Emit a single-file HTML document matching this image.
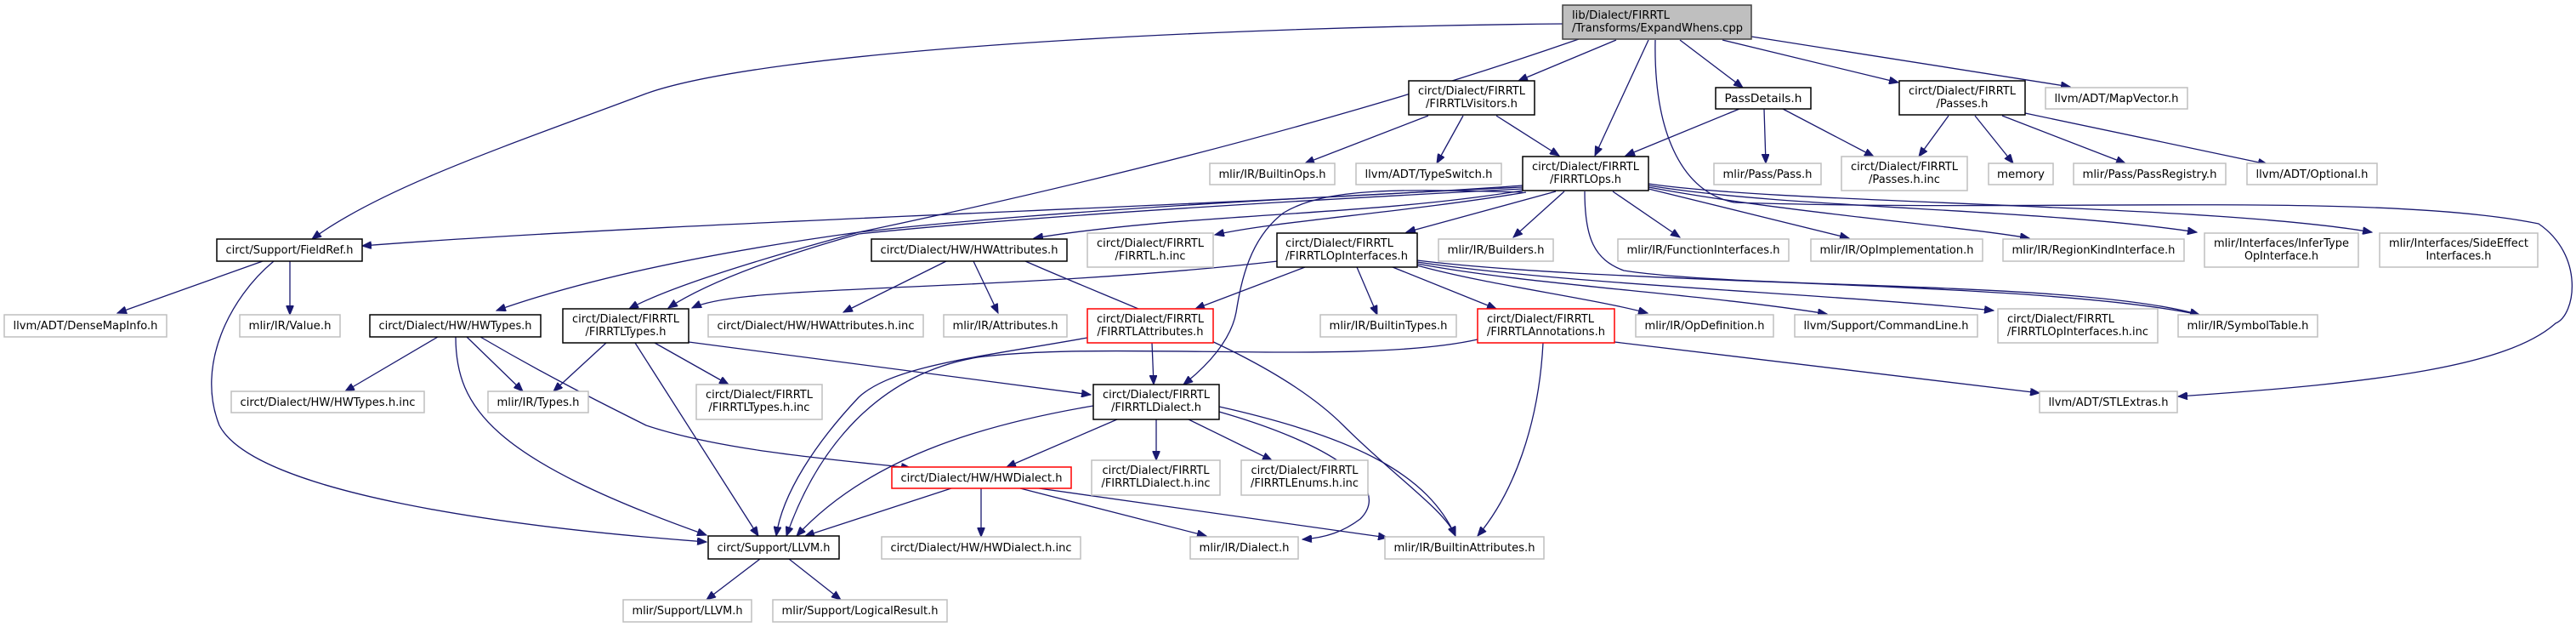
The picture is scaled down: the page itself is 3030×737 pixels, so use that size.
<!DOCTYPE html>
<html><head><meta charset="utf-8"><style>
html,body{margin:0;padding:0;background:#fff;}
svg{display:block;}
text{font-family:"DejaVu Sans","Liberation Sans",sans-serif;font-size:13px;fill:#000;}
.b{fill:#fff;stroke:#000;stroke-width:1.5}
.g{fill:#fff;stroke:#bfbfbf;stroke-width:1.5}
.r{fill:#fff;stroke:#ff0000;stroke-width:1.5}
.rt{fill:#bfbfbf;stroke:#404040;stroke-width:1.5}
path.e{fill:none;stroke:#191970;stroke-width:1.3;marker-end:url(#a)}
</style></head><body>
<svg width="3030" height="737" viewBox="0 0 3030 737" xmlns="http://www.w3.org/2000/svg">
<defs><marker id="a" markerUnits="userSpaceOnUse" markerWidth="12" markerHeight="9" refX="11" refY="4.5" orient="auto"><path d="M0,0 L11,4.5 L0,9 z" fill="#191970" stroke="#191970"/></marker></defs>
<rect width="3030" height="737" fill="#fff"/>
<!-- edges -->
<path class="e" d="M1838,28 C1400,32 900,60 760,110 C600,170 450,220 367,281"/>
<path class="e" d="M1857,46 Q1500,170 1010,273 Q800,330 740,363"/>
<path class="e" d="M1901,47 L1786,95"/>
<path class="e" d="M1939,47 L1876,183"/>
<path class="e" d="M1947,47 C1945,150 1975,225 2040,238 C2400,250 2800,225 2986,263 C3040,300 3030,370 3006,380 C2950,430 2800,450 2562,466"/>
<path class="e" d="M1976,47 L2050,103"/>
<path class="e" d="M2026,47 L2233,97"/>
<path class="e" d="M2060,43 L2435,102"/>
<path class="e" d="M1680,136 L1535,192"/>
<path class="e" d="M1721,136 L1690,192"/>
<path class="e" d="M1760,136 L1834,183"/>
<path class="e" d="M2046,128 L1912,183"/>
<path class="e" d="M2075,128 L2077,192"/>
<path class="e" d="M2097,128 L2204,184"/>
<path class="e" d="M2292,136 L2257,184"/>
<path class="e" d="M2323,136 L2368,192"/>
<path class="e" d="M2355,136 L2500,192"/>
<path class="e" d="M2382,133 L2667,193"/>
<path class="e" d="M1791,218 C1500,240 800,260 426,289"/>
<path class="e" d="M1791,220 Q1250,245 1010,273 Q740,310 584,365"/>
<path class="e" d="M1791,222 Q1250,250 1010,275 Q850,320 786,362"/>
<path class="e" d="M1791,224 C1600,255 1400,250 1216,280"/>
<path class="e" d="M1795,226 C1650,250 1500,260 1429,276"/>
<path class="e" d="M1830,225 L1654,273"/>
<path class="e" d="M1840,225 L1780,279"/>
<path class="e" d="M1897,225 L1976,279"/>
<path class="e" d="M1939,222 L2175,280"/>
<path class="e" d="M1939,220 C2100,250 2300,265 2387,280"/>
<path class="e" d="M1939,218 C2100,245 2400,245 2584,273"/>
<path class="e" d="M1939,216 C2100,240 2600,240 2790,273"/>
<path class="e" d="M1791,226 C1650,222 1560,220 1510,250 C1470,280 1460,330 1454,367 C1448,400 1420,430 1392,452"/>
<path class="e" d="M1864,225 C1864,280 1875,305 1910,318 C2050,340 2450,330 2587,370"/>
<path class="e" d="M1503,307 C1300,330 1100,335 1010,340 C900,345 840,350 814,362"/>
<path class="e" d="M1535,314 L1406,363"/>
<path class="e" d="M1596,314 L1620,370"/>
<path class="e" d="M1638,314 L1760,363"/>
<path class="e" d="M1667,312 C1750,335 1870,350 1938,368"/>
<path class="e" d="M1667,310 C1800,335 2000,345 2149,369"/>
<path class="e" d="M1667,308 C1850,335 2150,345 2345,365"/>
<path class="e" d="M1667,306 C1900,335 2400,330 2587,370"/>
<path class="e" d="M309,307 L138,368"/>
<path class="e" d="M341,307 L341,370"/>
<path class="e" d="M322,307 C270,350 230,430 258,500 C300,580 600,620 831,637"/>
<path class="e" d="M515,396 L406,460"/>
<path class="e" d="M549,396 L615,460"/>
<path class="e" d="M536,396 C536,480 580,540 831,629"/>
<path class="e" d="M565,396 C640,440 700,470 760,500 C850,530 980,540 1071,550"/>
<path class="e" d="M713,403 L651,460"/>
<path class="e" d="M747,403 L892,630"/>
<path class="e" d="M770,403 L857,452"/>
<path class="e" d="M810,402 L1283,464"/>
<path class="e" d="M1355,403 L1357,452"/>
<path class="e" d="M1279,397 C1150,420 1050,430 1010,467 C960,520 920,580 913,630"/>
<path class="e" d="M1738,399 C1600,430 1300,400 1150,420 C1030,440 960,530 925,630"/>
<path class="e" d="M1815,403 C1810,500 1780,580 1738,630"/>
<path class="e" d="M1899,402 L2399,462"/>
<path class="e" d="M1113,307 L992,367"/>
<path class="e" d="M1145,307 L1174,368"/>
<path class="e" d="M1206,307 C1350,370 1500,420 1580,500 C1640,560 1700,600 1712,630"/>
<path class="e" d="M1314,493 L1184,549"/>
<path class="e" d="M1360,493 L1360,541"/>
<path class="e" d="M1398,493 L1496,541"/>
<path class="e" d="M1434,484 C1560,520 1640,570 1600,610 C1580,625 1560,632 1532,634"/>
<path class="e" d="M1434,478 C1600,515 1680,560 1712,630"/>
<path class="e" d="M1286,477 C1150,500 1020,540 937,630"/>
<path class="e" d="M1154,574 L1154,631"/>
<path class="e" d="M1200,574 L1419,630"/>
<path class="e" d="M1222,574 L1632,632"/>
<path class="e" d="M1119,574 L947,630"/>
<path class="e" d="M894,657 L831,705"/>
<path class="e" d="M928,657 L989,705"/>
<!-- nodes -->
<rect class="rt" x="1838" y="6" width="222" height="40"/>
<text x="1849" y="22" textLength="115" lengthAdjust="spacingAndGlyphs">lib/Dialect/FIRRTL</text>
<text x="1849" y="37" textLength="201" lengthAdjust="spacingAndGlyphs">/Transforms/ExpandWhens.cpp</text>

<rect class="b" x="255" y="281" width="171" height="26"/><text x="340.5" y="298" text-anchor="middle" textLength="150" lengthAdjust="spacingAndGlyphs">circt/Support/FieldRef.h</text>
<rect class="g" x="5" y="370" width="191" height="26"/><text x="100.5" y="387" text-anchor="middle" textLength="170" lengthAdjust="spacingAndGlyphs">llvm/ADT/DenseMapInfo.h</text>
<rect class="g" x="282" y="370" width="118" height="26"/><text x="341" y="387" text-anchor="middle" textLength="97" lengthAdjust="spacingAndGlyphs">mlir/IR/Value.h</text>
<rect class="b" x="435" y="370" width="201" height="26"/><text x="535.5" y="387" text-anchor="middle" textLength="180" lengthAdjust="spacingAndGlyphs">circt/Dialect/HW/HWTypes.h</text>
<rect class="b" x="662" y="363" width="148" height="40"/><text x="736" y="379" text-anchor="middle" textLength="126" lengthAdjust="spacingAndGlyphs">circt/Dialect/FIRRTL</text><text x="736" y="394" text-anchor="middle" textLength="95" lengthAdjust="spacingAndGlyphs">/FIRRTLTypes.h</text>
<rect class="g" x="833" y="370" width="253" height="26"/><text x="959.5" y="387" text-anchor="middle" textLength="232" lengthAdjust="spacingAndGlyphs">circt/Dialect/HW/HWAttributes.h.inc</text>
<rect class="g" x="272" y="460" width="227" height="25"/><text x="385.5" y="477" text-anchor="middle" textLength="206" lengthAdjust="spacingAndGlyphs">circt/Dialect/HW/HWTypes.h.inc</text>
<rect class="g" x="574" y="460" width="118" height="25"/><text x="633" y="477" text-anchor="middle" textLength="97" lengthAdjust="spacingAndGlyphs">mlir/IR/Types.h</text>
<rect class="g" x="819" y="452" width="148" height="41"/><text x="893" y="468" text-anchor="middle" textLength="126" lengthAdjust="spacingAndGlyphs">circt/Dialect/FIRRTL</text><text x="893" y="483" text-anchor="middle" textLength="119" lengthAdjust="spacingAndGlyphs">/FIRRTLTypes.h.inc</text>
<rect class="b" x="833" y="630" width="154" height="27"/><text x="910" y="648" text-anchor="middle" textLength="133" lengthAdjust="spacingAndGlyphs">circt/Support/LLVM.h</text>
<rect class="g" x="733" y="705" width="151" height="26"/><text x="808.5" y="722" text-anchor="middle" textLength="130" lengthAdjust="spacingAndGlyphs">mlir/Support/LLVM.h</text>
<rect class="g" x="909" y="705" width="205" height="26"/><text x="1011.5" y="722" text-anchor="middle" textLength="184" lengthAdjust="spacingAndGlyphs">mlir/Support/LogicalResult.h</text>
<rect class="b" x="1657" y="95" width="148" height="40"/><text x="1731" y="111" text-anchor="middle" textLength="126" lengthAdjust="spacingAndGlyphs">circt/Dialect/FIRRTL</text><text x="1731" y="126" text-anchor="middle" textLength="108" lengthAdjust="spacingAndGlyphs">/FIRRTLVisitors.h</text>
<rect class="g" x="1423" y="192" width="147" height="25"/><text x="1496.5" y="209" text-anchor="middle" textLength="126" lengthAdjust="spacingAndGlyphs">mlir/IR/BuiltinOps.h</text>
<rect class="g" x="1595" y="192" width="171" height="25"/><text x="1680.5" y="209" text-anchor="middle" textLength="150" lengthAdjust="spacingAndGlyphs">llvm/ADT/TypeSwitch.h</text>
<rect class="b" x="1791" y="184" width="148" height="40"/><text x="1865" y="200" text-anchor="middle" textLength="126" lengthAdjust="spacingAndGlyphs">circt/Dialect/FIRRTL</text><text x="1865" y="215" text-anchor="middle" textLength="84" lengthAdjust="spacingAndGlyphs">/FIRRTLOps.h</text>
<rect class="b" x="1025" y="281" width="230" height="26"/><text x="1140" y="298" text-anchor="middle" textLength="209" lengthAdjust="spacingAndGlyphs">circt/Dialect/HW/HWAttributes.h</text>
<rect class="g" x="1279" y="274" width="148" height="40"/><text x="1353" y="290" text-anchor="middle" textLength="126" lengthAdjust="spacingAndGlyphs">circt/Dialect/FIRRTL</text><text x="1353" y="305" text-anchor="middle" textLength="83" lengthAdjust="spacingAndGlyphs">/FIRRTL.h.inc</text>
<rect class="b" x="1502" y="274" width="165" height="40"/><text x="1512" y="290" textLength="127" lengthAdjust="spacingAndGlyphs">circt/Dialect/FIRRTL</text><text x="1512" y="305" textLength="144" lengthAdjust="spacingAndGlyphs">/FIRRTLOpInterfaces.h</text>
<rect class="g" x="1692" y="281" width="135" height="26"/><text x="1759.5" y="298" text-anchor="middle" textLength="114" lengthAdjust="spacingAndGlyphs">mlir/IR/Builders.h</text>
<rect class="g" x="1903" y="281" width="201" height="26"/><text x="2003.5" y="298" text-anchor="middle" textLength="180" lengthAdjust="spacingAndGlyphs">mlir/IR/FunctionInterfaces.h</text>
<rect class="b" x="2018" y="103" width="112" height="25"/><text x="2074" y="120" text-anchor="middle" textLength="91" lengthAdjust="spacingAndGlyphs">PassDetails.h</text>
<rect class="b" x="2234" y="95" width="148" height="40"/><text x="2308" y="111" text-anchor="middle" textLength="126" lengthAdjust="spacingAndGlyphs">circt/Dialect/FIRRTL</text><text x="2308" y="126" text-anchor="middle" textLength="61" lengthAdjust="spacingAndGlyphs">/Passes.h</text>
<rect class="g" x="2406" y="103" width="167" height="25"/><text x="2489.5" y="120" text-anchor="middle" textLength="146" lengthAdjust="spacingAndGlyphs">llvm/ADT/MapVector.h</text>
<rect class="g" x="2016" y="192" width="126" height="25"/><text x="2079" y="209" text-anchor="middle" textLength="105" lengthAdjust="spacingAndGlyphs">mlir/Pass/Pass.h</text>
<rect class="g" x="2166" y="184" width="148" height="40"/><text x="2240" y="200" text-anchor="middle" textLength="126" lengthAdjust="spacingAndGlyphs">circt/Dialect/FIRRTL</text><text x="2240" y="215" text-anchor="middle" textLength="84" lengthAdjust="spacingAndGlyphs">/Passes.h.inc</text>
<rect class="g" x="2339" y="192" width="76" height="25"/><text x="2377" y="209" text-anchor="middle" textLength="56" lengthAdjust="spacingAndGlyphs">memory</text>
<rect class="g" x="2439" y="192" width="179" height="25"/><text x="2528.5" y="209" text-anchor="middle" textLength="158" lengthAdjust="spacingAndGlyphs">mlir/Pass/PassRegistry.h</text>
<rect class="g" x="2643" y="192" width="153" height="25"/><text x="2719.5" y="209" text-anchor="middle" textLength="132" lengthAdjust="spacingAndGlyphs">llvm/ADT/Optional.h</text>
<rect class="g" x="2130" y="281" width="202" height="26"/><text x="2231" y="298" text-anchor="middle" textLength="181" lengthAdjust="spacingAndGlyphs">mlir/IR/OpImplementation.h</text>
<rect class="g" x="2356" y="281" width="213" height="26"/><text x="2462.5" y="298" text-anchor="middle" textLength="192" lengthAdjust="spacingAndGlyphs">mlir/IR/RegionKindInterface.h</text>
<rect class="g" x="2593" y="274" width="181" height="40"/><text x="2683.5" y="290" text-anchor="middle" textLength="159" lengthAdjust="spacingAndGlyphs">mlir/Interfaces/InferType</text><text x="2683.5" y="305" text-anchor="middle" textLength="87" lengthAdjust="spacingAndGlyphs">OpInterface.h</text>
<rect class="g" x="2799" y="274" width="186" height="40"/><text x="2892" y="290" text-anchor="middle" textLength="164" lengthAdjust="spacingAndGlyphs">mlir/Interfaces/SideEffect</text><text x="2892" y="305" text-anchor="middle" textLength="77" lengthAdjust="spacingAndGlyphs">Interfaces.h</text>
<rect class="g" x="1110" y="370" width="145" height="26"/><text x="1182.5" y="387" text-anchor="middle" textLength="124" lengthAdjust="spacingAndGlyphs">mlir/IR/Attributes.h</text>
<rect class="r" x="1279" y="363" width="148" height="40"/><text x="1353" y="379" text-anchor="middle" textLength="126" lengthAdjust="spacingAndGlyphs">circt/Dialect/FIRRTL</text><text x="1353" y="394" text-anchor="middle" textLength="125" lengthAdjust="spacingAndGlyphs">/FIRRTLAttributes.h</text>
<rect class="g" x="1553" y="370" width="160" height="26"/><text x="1633" y="387" text-anchor="middle" textLength="139" lengthAdjust="spacingAndGlyphs">mlir/IR/BuiltinTypes.h</text>
<rect class="r" x="1738" y="363" width="161" height="40"/><text x="1749" y="379" textLength="126" lengthAdjust="spacingAndGlyphs">circt/Dialect/FIRRTL</text><text x="1749" y="394" textLength="139" lengthAdjust="spacingAndGlyphs">/FIRRTLAnnotations.h</text>
<rect class="g" x="1924" y="370" width="162" height="26"/><text x="2005" y="387" text-anchor="middle" textLength="141" lengthAdjust="spacingAndGlyphs">mlir/IR/OpDefinition.h</text>
<rect class="g" x="2111" y="370" width="215" height="26"/><text x="2218.5" y="387" text-anchor="middle" textLength="194" lengthAdjust="spacingAndGlyphs">llvm/Support/CommandLine.h</text>
<rect class="g" x="2350" y="363" width="188" height="40"/><text x="2361" y="379" textLength="126" lengthAdjust="spacingAndGlyphs">circt/Dialect/FIRRTL</text><text x="2361" y="394" textLength="166" lengthAdjust="spacingAndGlyphs">/FIRRTLOpInterfaces.h.inc</text>
<rect class="g" x="2562" y="370" width="164" height="26"/><text x="2644" y="387" text-anchor="middle" textLength="143" lengthAdjust="spacingAndGlyphs">mlir/IR/SymbolTable.h</text>
<rect class="b" x="1286" y="452" width="148" height="41"/><text x="1360" y="468" text-anchor="middle" textLength="126" lengthAdjust="spacingAndGlyphs">circt/Dialect/FIRRTL</text><text x="1360" y="483" text-anchor="middle" textLength="106" lengthAdjust="spacingAndGlyphs">/FIRRTLDialect.h</text>
<rect class="r" x="1049" y="549" width="211" height="25"/><text x="1154.5" y="566" text-anchor="middle" textLength="190" lengthAdjust="spacingAndGlyphs">circt/Dialect/HW/HWDialect.h</text>
<rect class="g" x="1284" y="541" width="151" height="41"/><text x="1359.5" y="557" text-anchor="middle" textLength="126" lengthAdjust="spacingAndGlyphs">circt/Dialect/FIRRTL</text><text x="1359.5" y="572" text-anchor="middle" textLength="128" lengthAdjust="spacingAndGlyphs">/FIRRTLDialect.h.inc</text>
<rect class="g" x="1460" y="541" width="149" height="41"/><text x="1534.5" y="557" text-anchor="middle" textLength="126" lengthAdjust="spacingAndGlyphs">circt/Dialect/FIRRTL</text><text x="1534.5" y="572" text-anchor="middle" textLength="127" lengthAdjust="spacingAndGlyphs">/FIRRTLEnums.h.inc</text>
<rect class="g" x="1037" y="631" width="234" height="26"/><text x="1154" y="648" text-anchor="middle" textLength="213" lengthAdjust="spacingAndGlyphs">circt/Dialect/HW/HWDialect.h.inc</text>
<rect class="g" x="1400" y="631" width="127" height="26"/><text x="1463.5" y="648" text-anchor="middle" textLength="106" lengthAdjust="spacingAndGlyphs">mlir/IR/Dialect.h</text>
<rect class="g" x="1629" y="631" width="187" height="26"/><text x="1722.5" y="648" text-anchor="middle" textLength="166" lengthAdjust="spacingAndGlyphs">mlir/IR/BuiltinAttributes.h</text>
<rect class="g" x="2399" y="460" width="162" height="25"/><text x="2480" y="477" text-anchor="middle" textLength="141" lengthAdjust="spacingAndGlyphs">llvm/ADT/STLExtras.h</text>
</svg>
</body></html>
